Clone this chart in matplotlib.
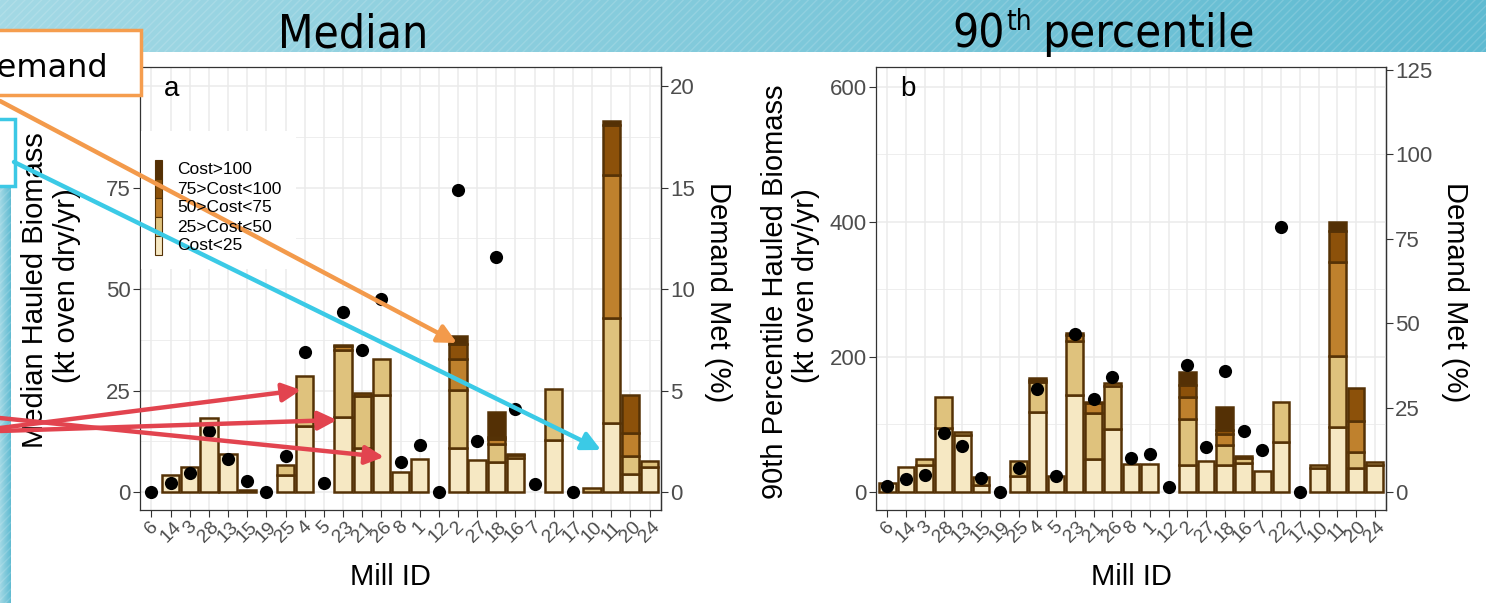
import numpy as np
import matplotlib.pyplot as plt
from matplotlib.patches import Rectangle, FancyArrowPatch
from matplotlib.colors import LinearSegmentedColormap
from matplotlib.transforms import ScaledTranslation

plt.rcParams['font.family'] = ['Liberation Sans', 'DejaVu Sans']

W, H = 1486, 603

mills = ["6", "14", "3", "28", "13", "15", "19", "25", "4", "5", "23", "21", "26", "8",
         "1", "12", "2", "27", "18", "16", "7", "22", "17", "10", "11", "20", "24"]
cost_labels = ["Cost<25", "25>Cost<50", "50>Cost<75", "75>Cost<100", "Cost>100"]
cost_colors = ["#F6E8C3", "#DFC27D", "#BF812D", "#8C510A", "#543005"]

# median hauled biomass (kt oven dry/yr) per cost class
med_lt25 = [0, 4.1, 6.3, 18.2, 9.4, 0, 0, 4.1, 16.2, 0, 18.5, 10.8, 24.0, 4.9, 8.1, 0, 10.8, 8.0, 7.3, 8.5, 0, 12.9, 0, 0, 17.0, 4.5, 6.3]
med_25_50 = [0, 0, 0, 0, 0, 0.6, 0, 2.6, 12.3, 0, 16.6, 12.8, 8.8, 0, 0, 0, 14.4, 0, 4.5, 0.6, 0, 12.6, 0, 1.0, 26.0, 4.5, 1.3]
med_50_75 = [0, 0, 0, 0, 0, 0, 0, 0, 0, 0, 0.8, 0, 0, 0, 0, 0, 7.6, 0, 1.3, 0.3, 0, 0, 0, 0, 35.0, 5.5, 0]
med_75_100 = [0, 0, 0, 0, 0, 0, 0, 0, 0, 0, 0, 0.8, 0, 0, 0, 0, 3.7, 0, 0.4, 0, 0, 0, 0, 0, 12.5, 9.5, 0]
med_gt100 = [0, 0, 0, 0, 0, 0, 0, 0, 0, 0, 0.4, 0, 0, 0, 0, 0, 2.0, 0, 6.2, 0, 0, 0, 0, 0, 1.0, 0, 0]
med_pct = [0, 0.44, 0.94, 3.0, 1.63, 0.53, 0, 1.79, 6.9, 0.44, 8.87, 7.0, 9.5, 1.5, 2.3, 0, 14.9, 2.5, 11.6, 4.1, 0.4,
           np.nan, 0, np.nan, np.nan, np.nan, np.nan]

# 90th percentile hauled biomass (kt oven dry/yr) per cost class
p90_lt25 = [13, 36.5, 40.5, 95, 85, 11, 0, 23, 118.5, 24, 143, 49, 93.3, 41.5, 41.5, 0, 40.5, 45.4, 40.5, 43, 30.6, 73.6, 0, 36, 96.7, 35, 40]
p90_25_50 = [0, 0, 9, 45, 4, 11, 0, 23.5, 44, 0, 81, 68, 63, 0, 0, 0, 68, 0, 29.5, 7.4, 0, 59.7, 0, 4, 104.8, 24.7, 5]
p90_50_75 = [0, 0, 0, 0, 0, 0, 0, 0, 4, 0, 8, 15, 5, 0, 0, 0, 32, 0, 16.5, 2.4, 0, 0, 0, 0, 139.5, 45.9, 0]
p90_75_100 = [0, 0, 0, 0, 0, 0, 0, 0, 2.5, 0, 3.5, 1.3, 0, 0, 0, 0, 18.5, 0, 6, 0, 0, 0, 0, 0, 46, 48, 0]
p90_gt100 = [0, 0, 0, 0, 0, 0, 0, 0, 0, 0, 0, 0, 0, 0, 0, 0, 18.5, 0, 33.5, 0, 0, 0, 0, 0, 12.5, 0, 0]
p90_pct = [1.9, 3.7, 5.1, 17.5, 13.7, 4.1, 0, 7.1, 30.5, 4.6, 46.9, 27.5, 34.1, 10.1, 11.3, 1.4, 37.7, 13.3, 35.7, 18.0, 12.5,
           78.5, 0, np.nan, np.nan, np.nan, np.nan]


def fx(x):
    return x / W


def fy(y):
    return 1 - y / H


def rect(l, t, r, b):
    return [fx(l), fy(b), fx(r) - fx(l), fy(t) - fy(b)]


fig = plt.figure(figsize=(W / 100, H / 100), dpi=100)

# background: header band + left strip
bg = fig.add_axes([0, 0, 1, 1], zorder=-5)
grad = np.linspace(0, 1, 256)[None, :]
tealmap = LinearSegmentedColormap.from_list("teal", ["#A3D9E5", "#5EBAD1"])
bg.imshow(grad, cmap=tealmap, extent=(0, W, 52, 0), aspect="auto")
bg.imshow(grad, cmap=tealmap, extent=(0, 11, H, 186), aspect="auto")
bg.add_patch(Rectangle((0, 0), W, 52, facecolor="none", edgecolor="white", alpha=0.15, hatch="////", lw=0))
bg.add_patch(Rectangle((0, 186), 11, H - 186, facecolor="none", edgecolor="white", alpha=0.15, hatch="////", lw=0))
bg.set_xlim(0, W)
bg.set_ylim(H, 0)
bg.axis("off")


def draw_panel(ax, segs, pct, ylim, yticks, ylabels, yminor, sec_ticks):
    x = np.arange(len(mills))
    bottom = np.zeros(len(mills))
    for vals, col in zip(segs, cost_colors):
        vals = np.asarray(vals, float)
        keep = vals > 0
        ax.bar(x[keep], vals[keep], 0.9, bottom=bottom[keep], color=col,
               edgecolor="#553206", linewidth=1.8, zorder=2)
        bottom += vals
    ax.scatter(x, np.asarray(pct, float) * 5, s=90, color="black", zorder=3, linewidths=0)

    ax.set_xlim(-0.6, len(mills) - 0.4)
    ax.set_ylim(*ylim)
    ax.set_xticks(x)
    ax.set_xticklabels(mills, rotation=45, ha="center", va="top", fontsize=14, color="#4D4D4D")
    shift = ScaledTranslation(4 / 100, 0, fig.dpi_scale_trans)
    for lab in ax.get_xticklabels():
        lab.set_transform(lab.get_transform() + shift)
    ax.set_yticks(yticks)
    ax.set_yticklabels(ylabels)
    ax.set_yticks(yminor, minor=True)
    ax.tick_params(axis="y", which="major", labelsize=16, labelcolor="#4D4D4D", length=5, width=0.8, pad=1.5, color="#333333")
    ax.tick_params(axis="x", which="major", length=5, width=0.8, pad=1, color="#333333")
    ax.tick_params(which="minor", length=0)
    ax.set_axisbelow(True)
    ax.grid(which="major", color="#EBEBEB", lw=1.1)
    ax.grid(which="minor", axis="y", color="#EBEBEB", lw=0.6)
    for s in ax.spines.values():
        s.set_color("#333333")
        s.set_linewidth(0.9)

    sec = ax.secondary_yaxis("right", functions=(lambda v: v / 5, lambda v: v * 5))
    sec.set_yticks(sec_ticks)
    sec.tick_params(labelsize=16, labelcolor="#4D4D4D", length=5, width=0.8, pad=1.5, color="#333333")
    sec.spines["right"].set_color("#333333")
    sec.spines["right"].set_linewidth(0.9)


axa = fig.add_axes(rect(140, 67, 661, 510))
# the "100" label sits under the call-out box in the reference
draw_panel(axa, [med_lt25, med_25_50, med_50_75, med_75_100, med_gt100], med_pct,
           (-4.4, 104.7), [0, 25, 50, 75, 100], ["0", "25", "50", "75", ""],
           [12.5, 37.5, 62.5, 87.5], [0, 5, 10, 15, 20])

axb = fig.add_axes(rect(876, 67, 1386, 510))
draw_panel(axb, [p90_lt25, p90_25_50, p90_50_75, p90_75_100, p90_gt100], p90_pct,
           (-26.7, 629.6), [0, 200, 400, 600], ["0", "200", "400", "600"],
           [100, 300, 500], [0, 25, 50, 75, 100, 125])

# axis titles
fig.text(fx(35), fy(290), "Median Hauled Biomass", rotation=90, ha="center", va="center", fontsize=21)
fig.text(fx(67), fy(286), "(kt oven dry/yr)", rotation=90, ha="center", va="center", fontsize=21)
fig.text(fx(775), fy(292), "90th Percentile Hauled Biomass", rotation=90, ha="center", va="center", fontsize=21)
fig.text(fx(806), fy(286), "(kt oven dry/yr)", rotation=90, ha="center", va="center", fontsize=21)
fig.text(fx(718), fy(292), "Demand Met (%)", rotation=270, ha="center", va="center", fontsize=21)
fig.text(fx(1455), fy(292), "Demand Met (%)", rotation=270, ha="center", va="center", fontsize=21)
fig.text(fx(390), fy(577), "Mill ID", ha="center", va="center", fontsize=21)
fig.text(fx(1131), fy(577), "Mill ID", ha="center", va="center", fontsize=21)
fig.text(fx(172), fy(89), "a", ha="center", va="center", fontsize=20)
fig.text(fx(908), fy(89), "b", ha="center", va="center", fontsize=20)

# header titles
hdr = dict(family="DejaVu Sans", fontstretch="condensed", color="black", va="baseline")
fig.text(fx(353), fy(47), "Median", ha="center", fontsize=33, **hdr)
t1 = fig.text(fx(952), fy(47), "90", ha="left", fontsize=33, **hdr)
fig.canvas.draw()
bb1 = t1.get_window_extent()
t2 = fig.text(bb1.x1 / W + fx(2), fy(30), "th", ha="left", fontsize=20, **hdr)
fig.canvas.draw()
bb2 = t2.get_window_extent()
fig.text(bb2.x1 / W + fx(10), fy(47), "percentile", ha="left", fontsize=34, **hdr)

# overlay: legend, call-out boxes and arrows
ov = fig.add_axes([0, 0, 1, 1], zorder=10)
ov.set_xlim(0, W)
ov.set_ylim(H, 0)
ov.axis("off")
ov.patch.set_alpha(0)

ov.add_patch(Rectangle((141, 131), 155, 138, facecolor="white", edgecolor="none"))
for i, (lab, col) in enumerate(zip(cost_labels[::-1], cost_colors[::-1])):
    y0 = 160 + i * 19
    ov.add_patch(Rectangle((155, y0), 7, 19, facecolor=col, edgecolor="#553206", lw=0.8))
    ov.text(177, y0 + 10, lab, ha="left", va="center", fontsize=12.5)

ov.add_patch(Rectangle((-10, 30), 151, 65, facecolor="white", edgecolor="#F59D4E", lw=2.5))
ov.text(108, 77, "Demand", ha="right", va="baseline", fontsize=23, family="DejaVu Sans", clip_on=True)
ov.add_patch(Rectangle((-10, 119), 25, 67, facecolor="white", edgecolor="#3CC8E5", lw=2.5))

arrows = [((0, 101), (457, 343), "#F39A4B"),
          ((14, 162), (601, 450), "#3BCAE6"),
          ((0, 428), (301, 390), "#E2444F"),
          ((0, 431), (337, 420), "#E2444F"),
          ((0, 418), (384, 457), "#E2444F")]
for start, end, col in arrows:
    ov.add_patch(FancyArrowPatch(start, end, arrowstyle="-|>", mutation_scale=28,
                                 color=col, lw=3.2, shrinkA=0, shrinkB=0))

fig.savefig("out.png", dpi=100)
